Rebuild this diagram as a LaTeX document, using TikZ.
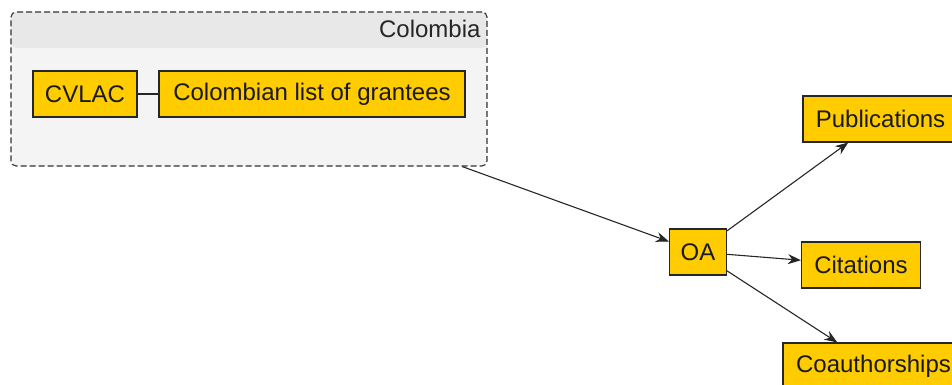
\documentclass[tikz,border=0pt]{standalone}
\usepackage{fontspec}
\setmainfont{Liberation Sans}
\usetikzlibrary{arrows.meta}
\definecolor{nodeyellow}{HTML}{FFCC00}
\definecolor{grpbody}{HTML}{F4F4F4}
\definecolor{grphead}{HTML}{E8E8E8}
\definecolor{grpline}{HTML}{333333}
\begin{document}
\begin{tikzpicture}[x=1pt,y=-1pt,
  every node/.style={font=\fontsize{24}{29}\selectfont},
  entity/.style={draw=black!85,fill=nodeyellow,line width=1.1pt,inner sep=0pt,
    minimum height=46pt,text=black!90},
  grpbox/.style={draw=grpline,dashed,dash pattern=on 6pt off 3pt,line width=1.1pt,
    fill=grpbody,rounded corners=5pt,inner sep=0pt,
    path picture={\fill[grphead] (path picture bounding box.north west)
      rectangle ([yshift=-36pt]path picture bounding box.north east);}},
  link/.style={line width=1.1pt,draw=black!85},
  arr/.style={link,-{Stealth[length=13pt,width=10pt]}}]
  \clip (0,0) rectangle (952,385);
  % group Colombia
  \node[grpbox,minimum width=476pt,minimum height=154pt] (grp) at (249,89) {};
  \node[anchor=base east,text=black!85] (grplabel) at (484,38) {Colombia};
  \node[entity,minimum width=104pt] (cvlac) at (85,94) {CVLAC};
  \node[entity,minimum width=306pt] (grantees) at (312,94) {Colombian list of grantees};
  \draw[link] (cvlac) -- (grantees);
  % OA and outputs
  \node[entity,minimum width=57pt] (oa) at (698,252) {OA};
  \node[entity,minimum width=155pt] (pubs) at (880.5,119) {Publications};
  \node[entity,minimum width=119pt] (cites) at (861,265) {Citations};
  \node[entity,minimum width=181pt] (coauth) at (873.5,366) {Coauthorships};
  \draw[arr] (grp) -- (oa);
  \draw[arr] (oa) -- (pubs);
  \draw[arr] (oa) -- (cites);
  \draw[arr] (oa) -- (coauth);
\end{tikzpicture}
\end{document}
